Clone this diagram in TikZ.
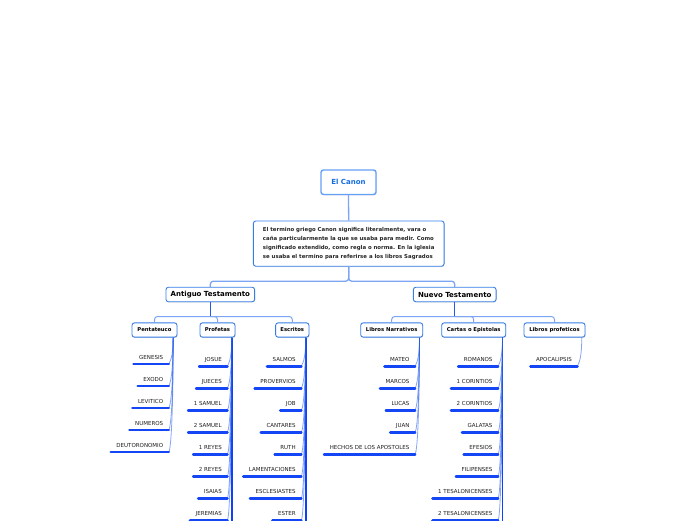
\documentclass[tikz,border=0pt]{standalone}
\usepackage{fontspec}
\setmainfont{DejaVu Sans}
\usetikzlibrary{calc,shadows}
\definecolor{boxblue}{RGB}{55,125,230}
\definecolor{canonblue}{RGB}{100,160,245}
\definecolor{canontext}{RGB}{20,110,225}
\definecolor{lightlink}{RGB}{125,165,245}
\definecolor{darklink}{RGB}{35,90,235}
\definecolor{ulblue}{RGB}{20,70,245}
\definecolor{stemblue}{RGB}{15,65,250}
\definecolor{labelgray}{RGB}{30,30,30}
\newcommand\leafgroup[4]{%
  \foreach \t [count=\i] in {#4} {
    \pgfmathsetmacro\dy{#3+22*(\i-1)}
    \node[leaf] (#1\i) at ($(#2)+(-4.3,\dy)$) {\t};
    \draw[fan] (#2) .. controls +(0,{0.6*\dy}) and +(2.5,-5) .. (#1\i.south east);
    \draw[uline] (#1\i.south west) -- (#1\i.south east);
  }}
\begin{document}
\begin{tikzpicture}[x=1pt,y=-1pt,
  box/.style={draw=boxblue, line width=0.9pt, fill=white, rounded corners=2.5pt,
    inner sep=0pt, text=black,
    drop shadow={shadow xshift=0.5pt, shadow yshift=-0.8pt, opacity=0.25}},
  sbox/.style={box, minimum height=14.3pt, font=\bfseries\fontsize{5.3}{6}\selectfont},
  mbox/.style={box, minimum height=14.5pt, font=\bfseries\fontsize{7}{8}\selectfont},
  toplink/.style={draw=lightlink, line width=1.3pt},
  sublink/.style={draw=lightlink, line width=1pt},
  dlink/.style={draw=darklink, line width=1.2pt},
  leaf/.style={anchor=south east, inner xsep=5.5pt, inner ysep=4.5pt, text height=4pt,
    text depth=0pt, font=\fontsize{5.5}{6}\selectfont, text=labelgray},
  fan/.style={draw=darklink, line width=0.8pt, opacity=0.55},
  uline/.style={draw=ulblue, line width=2.6pt, line cap=round},
  stem/.style={draw=stemblue, line width=1.9pt}
]
\useasboundingbox (0,0) rectangle (696,520);
\fill[white] (0,0) rectangle (696,520);
\clip (0,0) rectangle (696,520);

% main nodes
\node[box, draw=canonblue, line width=1.4pt, minimum width=55pt, minimum height=24.5pt,
  font=\bfseries\fontsize{7}{8}\selectfont, text=canontext] (canon) at (348.5,182.2) {El Canon};
\node[box, minimum width=190.7pt, minimum height=45.3pt, align=left,
  font=\bfseries\fontsize{5.4}{8.9}\selectfont, text=black!85] (desc) at (348.7,243.6)
  {\mbox{El termino griego Canon significa literalmente, vara o}\\
   \mbox{caña particularmente la que se usaba para medir. Como}\\
   \mbox{significado extendido, como regla o norma. En la iglesia}\\
   \mbox{se usaba el termino para referirse a los libros Sagrados}};
\node[mbox, minimum width=88.7pt] (ant) at (210.3,294.5) {Antiguo Testamento};
\node[mbox, minimum width=82.7pt] (nue) at (454.7,294.5) {Nuevo Testamento};

\node[sbox, minimum width=45pt] (pent) at (154.5,330) {Pentateuco};
\node[sbox, minimum width=35pt] (prof) at (217.5,330) {Profetas};
\node[sbox, minimum width=33.3pt] (escr) at (292.3,330) {Escritos};
\node[sbox, minimum width=62pt] (narr) at (391.7,330) {Libros Narrativos};
\node[sbox, minimum width=64pt] (cart) at (473.7,330) {Cartas o Epistolas};
\node[sbox, minimum width=61pt] (proph) at (554.5,330) {Libros profeticos};

% top connectors
\draw[toplink] (canon.south) -- (desc.north);
\draw[toplink, rounded corners=3pt] (desc.south) -- ++(0,14.5) -| (ant.north);
\draw[toplink, rounded corners=3pt] (desc.south) -- ++(0,14.5) -| (nue.north);

\draw[dlink] (ant.south) -- ++(0,14.3) coordinate (antj);
\draw[sublink, rounded corners=3pt] (antj) -| (pent.north);
\draw[sublink, rounded corners=3pt] (antj) -| (prof.north);
\draw[sublink, rounded corners=3pt] (antj) -| (escr.north);

\draw[dlink] (nue.south) -- ++(0,14.3) coordinate (nuej);
\draw[sublink, rounded corners=3pt] (nuej) -| (narr.north);
\draw[sublink, rounded corners=3pt] (nuej) -| (cart.north);
\draw[sublink, rounded corners=3pt] (nuej) -| (proph.north);

% stem start points
\coordinate (pents) at ($(pent.south east)+(-4.3,0)$);
\coordinate (profs) at ($(prof.south east)+(-3.7,0)$);
\coordinate (escrs) at ($(escr.south east)+(-3.7,0)$);
\coordinate (narrs) at ($(narr.south east)+(-3.7,0)$);
\coordinate (carts) at ($(cart.south east)+(-3.7,0)$);
\coordinate (prophs) at ($(proph.south east)+(-3.7,0)$);

% thick stems of long lists
\coordinate (profb) at ($(profs)+(0,200)$);
\coordinate (escrb) at ($(escrs)+(0,200)$);
\coordinate (cartb) at ($(carts)+(0,200)$);
\draw[stem] (profs) -- (profb);
\draw[stem] (escrs) -- (escrb);
\draw[stem] (carts) -- (cartb);

% leaves
\leafgroup{pl}{pents}{26.5}{GENESIS,EXODO,LEVITICO,NUMEROS,DEUTORONOMIO}
\leafgroup{rl}{profs}{28.7}{JOSUE,JUECES,1 SAMUEL,2 SAMUEL,1 REYES,2 REYES,ISAIAS,JEREMIAS}
\leafgroup{el}{escrs}{28.7}{SALMOS,PROVERVIOS,JOB,CANTARES,RUTH,LAMENTACIONES,ESCLESIASTES,ESTER}
\leafgroup{nl}{narrs}{28.7}{MATEO,MARCOS,LUCAS,JUAN,HECHOS DE LOS APOSTOLES}
\leafgroup{cl}{carts}{28.7}{ROMANOS,1 CORINTIOS,2 CORINTIOS,GALATAS,EFESIOS,FILIPENSES,1 TESALONICENSES,2 TESALONICENSES}
\leafgroup{al}{prophs}{28.7}{APOCALIPSIS}
\end{tikzpicture}
\end{document}
